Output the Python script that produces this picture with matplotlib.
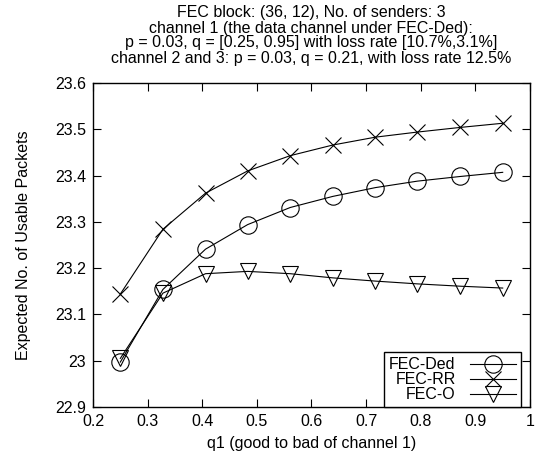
import matplotlib.pyplot as plt
import numpy as np

plt.rcParams['font.family'] = ['Liberation Sans', 'DejaVu Sans']

q1 = [0.25, 0.328, 0.406, 0.483, 0.561, 0.639, 0.717, 0.794, 0.872, 0.95]
fec_ded = [22.997, 23.154, 23.241, 23.294, 23.331, 23.355, 23.374, 23.388, 23.398, 23.407]
fec_rr = [23.144, 23.284, 23.362, 23.41, 23.443, 23.466, 23.483, 23.494, 23.504, 23.513]
fec_o = [23.005, 23.146, 23.188, 23.193, 23.188, 23.179, 23.172, 23.166, 23.161, 23.157]

title_lines = [
    'FEC block: (36, 12), No. of senders: 3',
    'channel 1 (the data channel under FEC-Ded):',
    'p = 0.03, q = [0.25, 0.95] with loss rate [10.7%,3.1%]',
    'channel 2 and 3: p = 0.03, q = 0.21, with loss rate 12.5%',
]

fs = 11.5
fig = plt.figure(figsize=(5.37, 4.59), dpi=100)
ax = fig.add_axes([93 / 537, 52 / 459, 437 / 537, 324 / 459])

ax.plot(q1, fec_ded, color='black', lw=0.8, marker='o', ms=12.5, mfc='none', mew=0.8, label='FEC-Ded')
ax.plot(q1, fec_rr, color='black', lw=0.8, marker='x', ms=12, mew=0.8, label='FEC-RR')
ax.plot(q1, fec_o, color='black', lw=0.8, marker='v', ms=12, mfc='none', mew=0.8, label='FEC-O')

ax.set_xlim(0.2, 1.0)
ax.set_ylim(22.9, 23.6)
ax.set_xticks(np.arange(0.2, 1.01, 0.1))
ax.set_xticklabels(['0.2', '0.3', '0.4', '0.5', '0.6', '0.7', '0.8', '0.9', '1'])
ax.set_yticks(np.arange(22.9, 23.61, 0.1))
ax.set_yticklabels(['22.9', '23', '23.1', '23.2', '23.3', '23.4', '23.5', '23.6'])
ax.tick_params(direction='in', top=True, right=True, length=6, width=0.8, labelsize=fs, pad=5)
for s in ax.spines.values():
    s.set_linewidth(1.0)

ax.set_xlabel('q1 (good to bad of channel 1)', fontsize=fs, labelpad=5)
ax.set_ylabel('Expected No. of Usable Packets', fontsize=fs, labelpad=17)

for i, line in enumerate(title_lines):
    fig.text(311 / 537, 1 - (13 + 15 * i) / 459, line, ha='center', va='center', fontsize=fs)

leg = ax.legend(loc='lower right', bbox_to_anchor=((521 - 93) / 437, 0.0), markerfirst=False,
                fancybox=False, edgecolor='black', fontsize=fs, handlelength=2.9,
                borderaxespad=0.0, labelspacing=0.0, borderpad=0.3, handletextpad=0.9,
                framealpha=1)
leg.get_frame().set_linewidth(1.0)

fig.savefig('out.png', dpi=100)
